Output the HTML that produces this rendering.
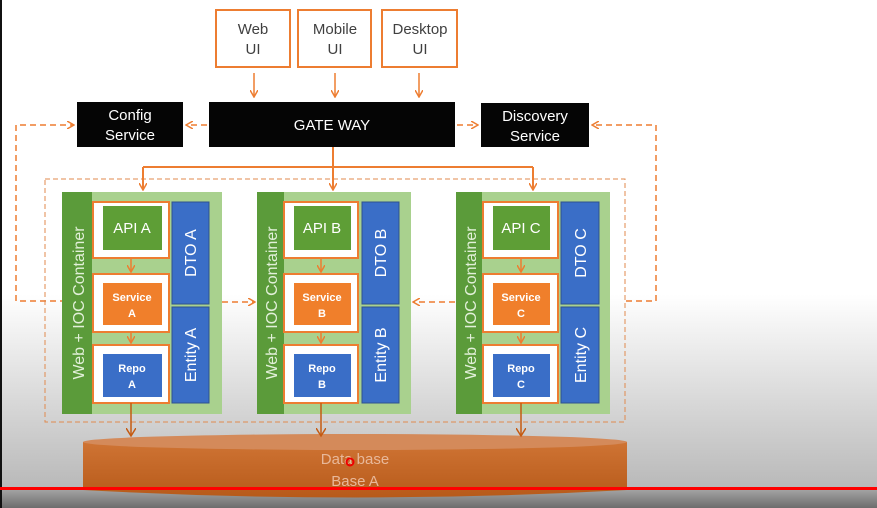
<!DOCTYPE html>
<html><head><meta charset="utf-8"><style>
html,body{margin:0;padding:0;width:877px;height:508px;overflow:hidden;background:#fff}
svg{display:block}
text{font-family:"Liberation Sans",sans-serif}
</style></head><body>
<svg width="877" height="508" viewBox="0 0 877 508" xmlns="http://www.w3.org/2000/svg">
<defs>
<linearGradient id="bg" x1="0" y1="0" x2="0" y2="1">
<stop offset="0" stop-color="#ffffff"/><stop offset="0.58" stop-color="#ffffff"/><stop offset="0.96" stop-color="#b9b9b9"/><stop offset="1" stop-color="#b0b0b0"/>
</linearGradient>
<linearGradient id="bot" x1="0" y1="0" x2="0" y2="1"><stop offset="0" stop-color="#a8a8a8"/><stop offset="1" stop-color="#6c6c6c"/></linearGradient>
<linearGradient id="cyl" x1="0" y1="0" x2="0" y2="1"><stop offset="0" stop-color="#cf7434"/><stop offset="1" stop-color="#b75a1a"/></linearGradient>
<marker id="ar" markerWidth="8" markerHeight="8" refX="7" refY="4" orient="auto" markerUnits="userSpaceOnUse"><path d="M0,0 L7,4 L0,8" fill="none" stroke="#ed7d31" stroke-width="1.5"/></marker>
<marker id="ard" markerWidth="10" markerHeight="10" refX="8" refY="5" orient="auto" markerUnits="userSpaceOnUse"><path d="M0,0 L8,5 L0,10" fill="none" stroke="#c55a11" stroke-width="1.5"/></marker>
</defs>
<rect width="877" height="508" fill="url(#bg)"/>
<rect x="0" y="488" width="877" height="20" fill="url(#bot)"/>
<rect x="0" y="0" width="2" height="508" fill="#111"/>

<!-- UI boxes -->
<g fill="#fff" stroke="#ed7d31" stroke-width="2">
<rect x="216" y="10" width="74" height="57"/><rect x="298" y="10" width="73" height="57"/><rect x="382" y="10" width="75" height="57"/>
</g>
<g font-size="15" fill="#404040" text-anchor="middle">
<text x="253" y="34">Web</text><text x="253" y="54">UI</text>
<text x="335" y="34">Mobile</text><text x="335" y="54">UI</text>
<text x="420" y="34">Desktop</text><text x="420" y="54">UI</text>
</g>
<g stroke="#ed7d31" stroke-width="1.5" marker-end="url(#ar)">
<line x1="254" y1="73" x2="254" y2="97"/><line x1="335" y1="73" x2="335" y2="97"/><line x1="419" y1="73" x2="419" y2="97"/>
</g>

<!-- black boxes -->
<rect x="77" y="102" width="106" height="45" fill="#050505"/>
<rect x="209" y="102" width="246" height="45" fill="#050505"/>
<rect x="481" y="103" width="108" height="44" fill="#050505"/>
<g fill="#fff" font-size="15" text-anchor="middle">
<text x="130" y="120">Config</text><text x="130" y="140">Service</text>
<text x="332" y="130">GATE WAY</text>
<text x="535" y="121">Discovery</text><text x="535" y="141">Service</text>
</g>

<!-- dashed connectors -->
<g stroke="#ed7d31" stroke-width="1.5" stroke-dasharray="6,4" fill="none">
<path d="M207,125 L186,125" marker-end="url(#ar)"/>
<path d="M457,125 L478,125" marker-end="url(#ar)"/>
<path d="M66,301 L16,301 L16,125 L74,125" marker-end="url(#ar)"/>
<path d="M626,301 L656,301 L656,125 L592,125" marker-end="url(#ar)"/>
<path d="M222,302 L255,302" marker-end="url(#ar)"/>
<path d="M455,302 L413,302" marker-end="url(#ar)"/>
</g>
<rect x="45" y="179" width="580" height="243" fill="none" stroke="#e08a4e" stroke-width="1" stroke-dasharray="5,3"/>

<!-- gateway fan-out -->
<g stroke="#ed7d31" stroke-width="2" fill="none">
<path d="M333,147 L333,190" marker-end="url(#ar)"/>
<path d="M143,167 L533,167"/>
<path d="M143,167 L143,190" marker-end="url(#ar)"/>
<path d="M533,167 L533,190" marker-end="url(#ar)"/>
</g>

<!-- Database cylinder -->
<path d="M83,442 L83,490 Q355,505 627,490 L627,442 Z" fill="url(#cyl)"/>
<ellipse cx="355" cy="442" rx="272" ry="8" fill="#d48a5a"/>
<g fill="#e8b89a" font-size="15" text-anchor="middle">
<text x="355" y="464">Data base</text><text x="355" y="486">Base A</text>
</g>
<circle cx="350" cy="462" r="3.5" fill="none" stroke="#e00" stroke-width="2"/>

<!-- containers -->
<g id="cA">
<rect x="62" y="192" width="160" height="222" fill="#a9d18e"/>
<rect x="62" y="192" width="30" height="222" fill="#5b9b3a"/>
<text transform="translate(84,303) rotate(-90)" fill="#e2f0d9" font-size="16" text-anchor="middle">Web + IOC  Container</text>
<g fill="#fff" stroke="#ed7d31" stroke-width="2">
<rect x="93" y="202" width="76" height="56"/><rect x="93" y="274" width="76" height="58"/><rect x="93" y="345" width="76" height="58"/>
</g>
<rect x="103" y="206" width="59" height="44" fill="#5e9e36"/>
<rect x="103" y="283" width="59" height="42" fill="#f07f2b"/>
<rect x="103" y="354" width="59" height="43" fill="#3a6ec7"/>
<rect x="172" y="202" width="37" height="102" fill="#3a6ec7" stroke="#2f528f" stroke-width="1"/>
<rect x="172" y="307" width="37" height="96" fill="#3a6ec7" stroke="#2f528f" stroke-width="1"/>
<g stroke="#ed7d31" stroke-width="1.5" marker-end="url(#ar)">
<line x1="131" y1="259" x2="131" y2="272"/><line x1="131" y1="333" x2="131" y2="343"/>
</g>
<text x="132" y="233" fill="#fff" font-size="15" text-anchor="middle">API A</text>
<text x="132" y="301" fill="#fff" font-size="11" font-weight="bold" text-anchor="middle">Service</text>
<text x="132" y="317" fill="#fff" font-size="11" font-weight="bold" text-anchor="middle">A</text>
<text x="132" y="372" fill="#fff" font-size="11" font-weight="bold" text-anchor="middle">Repo</text>
<text x="132" y="388" fill="#fff" font-size="11" font-weight="bold" text-anchor="middle">A</text>
<text transform="translate(196,253) rotate(-90)" fill="#fff" font-size="16" text-anchor="middle">DTO A</text>
<text transform="translate(196,355) rotate(-90)" fill="#fff" font-size="16" text-anchor="middle">Entity A</text>
<line x1="131" y1="403" x2="131" y2="436" stroke="#c55a11" stroke-width="1.5" marker-end="url(#ard)"/>
</g>

<g transform="translate(195,0)">
<rect x="62" y="192" width="154" height="222" fill="#a9d18e"/>
<rect x="62" y="192" width="27" height="222" fill="#5b9b3a"/>
<text transform="translate(82,303) rotate(-90)" fill="#e2f0d9" font-size="16" text-anchor="middle">Web + IOC  Container</text>
<g fill="#fff" stroke="#ed7d31" stroke-width="2">
<rect x="89" y="202" width="74" height="56"/><rect x="89" y="274" width="74" height="58"/><rect x="89" y="345" width="74" height="58"/>
</g>
<rect x="99" y="206" width="57" height="44" fill="#5e9e36"/>
<rect x="99" y="283" width="57" height="42" fill="#f07f2b"/>
<rect x="99" y="354" width="57" height="43" fill="#3a6ec7"/>
<rect x="167" y="202" width="37" height="102" fill="#3a6ec7" stroke="#2f528f" stroke-width="1"/>
<rect x="167" y="307" width="37" height="96" fill="#3a6ec7" stroke="#2f528f" stroke-width="1"/>
<g stroke="#ed7d31" stroke-width="1.5" marker-end="url(#ar)">
<line x1="126" y1="259" x2="126" y2="272"/><line x1="126" y1="333" x2="126" y2="343"/>
</g>
<text x="127" y="233" fill="#fff" font-size="15" text-anchor="middle">API B</text>
<text x="127" y="301" fill="#fff" font-size="11" font-weight="bold" text-anchor="middle">Service</text>
<text x="127" y="317" fill="#fff" font-size="11" font-weight="bold" text-anchor="middle">B</text>
<text x="127" y="372" fill="#fff" font-size="11" font-weight="bold" text-anchor="middle">Repo</text>
<text x="127" y="388" fill="#fff" font-size="11" font-weight="bold" text-anchor="middle">B</text>
<text transform="translate(191,253) rotate(-90)" fill="#fff" font-size="16" text-anchor="middle">DTO B</text>
<text transform="translate(191,355) rotate(-90)" fill="#fff" font-size="16" text-anchor="middle">Entity B</text>
<line x1="126" y1="403" x2="126" y2="436" stroke="#c55a11" stroke-width="1.5" marker-end="url(#ard)"/>
</g>

<g transform="translate(394,0)">
<rect x="62" y="192" width="154" height="222" fill="#a9d18e"/>
<rect x="62" y="192" width="26" height="222" fill="#5b9b3a"/>
<text transform="translate(82,303) rotate(-90)" fill="#e2f0d9" font-size="16" text-anchor="middle">Web + IOC  Container</text>
<g fill="#fff" stroke="#ed7d31" stroke-width="2">
<rect x="89" y="202" width="75" height="56"/><rect x="89" y="274" width="75" height="58"/><rect x="89" y="345" width="75" height="58"/>
</g>
<rect x="99" y="206" width="57" height="44" fill="#5e9e36"/>
<rect x="99" y="283" width="57" height="42" fill="#f07f2b"/>
<rect x="99" y="354" width="57" height="43" fill="#3a6ec7"/>
<rect x="167" y="202" width="38" height="102" fill="#3a6ec7" stroke="#2f528f" stroke-width="1"/>
<rect x="167" y="307" width="38" height="96" fill="#3a6ec7" stroke="#2f528f" stroke-width="1"/>
<g stroke="#ed7d31" stroke-width="1.5" marker-end="url(#ar)">
<line x1="127" y1="259" x2="127" y2="272"/><line x1="127" y1="333" x2="127" y2="343"/>
</g>
<text x="127" y="233" fill="#fff" font-size="15" text-anchor="middle">API C</text>
<text x="127" y="301" fill="#fff" font-size="11" font-weight="bold" text-anchor="middle">Service</text>
<text x="127" y="317" fill="#fff" font-size="11" font-weight="bold" text-anchor="middle">C</text>
<text x="127" y="372" fill="#fff" font-size="11" font-weight="bold" text-anchor="middle">Repo</text>
<text x="127" y="388" fill="#fff" font-size="11" font-weight="bold" text-anchor="middle">C</text>
<text transform="translate(192,253) rotate(-90)" fill="#fff" font-size="16" text-anchor="middle">DTO C</text>
<text transform="translate(192,355) rotate(-90)" fill="#fff" font-size="16" text-anchor="middle">Entity C</text>
<line x1="127" y1="403" x2="127" y2="436" stroke="#c55a11" stroke-width="1.5" marker-end="url(#ard)"/>
</g>

<rect x="0" y="487" width="877" height="3" fill="#ff0000"/>
</svg>
</body></html>
